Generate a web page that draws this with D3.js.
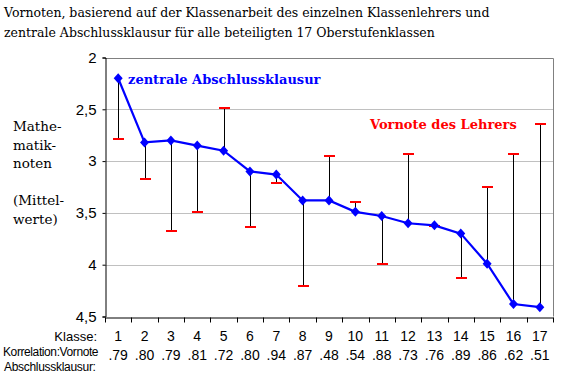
<!DOCTYPE html>
<html>
<head>
<meta charset="utf-8">
<script src="https://cdn.jsdelivr.net/npm/d3@7"></script>
<style>
  body { margin: 0; background: #fff; }
  svg { display: block; }
</style>
</head>
<body>
<script>
const width = 561;
const height = 380;

// data
const klassen = ["1","2","3","4","5","6","7","8","9","10","11","12","13","14","15","16","17"];
const abschluss = [2.20, 2.82, 2.80, 2.85, 2.90, 3.10, 3.13, 3.38, 3.38, 3.49, 3.53, 3.60, 3.62, 3.70, 3.99, 4.38, 4.41];
const vornote   = [2.79, 3.17, 3.67, 3.49, 2.49, 3.64, 3.21, 4.21, 2.95, 3.39, 3.99, 2.93, 3.63, 4.13, 3.25, 2.93, 2.64];
const korrelation = [".79",".80",".79",".81",".72",".80",".94",".87",".48",".54",".88",".73",".76",".89",".86",".62",".51"];
const yTicks = [2, 2.5, 3, 3.5, 4, 4.5];
const titleLines = [
  "Vornoten, basierend auf der Klassenarbeit des einzelnen Klassenlehrers und",
  "zentrale Abschlussklausur für alle beteiligten 17 Oberstufenklassen"
];
const yLabel = ["Mathe-", "matik-", "noten", "", "(Mittel-", "werte)"];

const serif = "Georgia, 'DejaVu Serif', serif";
const sans = "Arial, 'Liberation Sans', sans-serif";

const plot = { left: 105, right: 553, top: 57.5, bottom: 316.5 };

const svg = d3.select("body")
    .append("svg")
    .attr("width", width)
    .attr("height", height);

const x = d3.scaleBand()
    .domain(klassen)
    .range([plot.left, plot.right])
    .padding(0);

const y = d3.scaleLinear()
    .domain([2, 4.5])
    .range([plot.top, plot.bottom]);

// title
svg.append("g").selectAll("text")
    .data(titleLines)
    .join("text")
    .attr("x", 4)
    .attr("y", (d, i) => 17 + i * 20)
    .attr("font-family", serif)
    .attr("font-size", 12.5)
    .attr("fill", "#000")
    .text(d => d);

// gridlines
svg.append("g").selectAll("line")
    .data(yTicks.filter(d => d > 2 && d < 4.5))
    .join("line")
    .attr("x1", plot.left)
    .attr("x2", plot.right)
    .attr("y1", d => Math.round(y(d)) + 0.5)
    .attr("y2", d => Math.round(y(d)) + 0.5)
    .attr("stroke", "#c0c0c0");

// top and right border
svg.append("path")
    .attr("d", `M${plot.left},${Math.round(plot.top) + 0.5}H${plot.right + 0.5}V${plot.bottom}`)
    .attr("fill", "none")
    .attr("stroke", "#808080");

// y axis
const yAxis = d3.axisLeft(y)
    .tickValues(yTicks)
    .tickSize(3)
    .tickPadding(6)
    .tickFormat(d => String(d).replace(".", ","));

svg.append("g")
    .attr("transform", `translate(${plot.left + 0.5},0)`)
    .call(yAxis)
    .call(g => g.select(".domain").attr("stroke", "#000"))
    .call(g => g.selectAll("text")
        .attr("font-family", sans)
        .attr("font-size", 15)
        .attr("fill", "#000"));

// x axis ticks at band boundaries
const xAxis = d3.axisBottom(x)
    .tickSize(0)
    .tickFormat("");

const xg = svg.append("g")
    .attr("transform", `translate(0,${Math.round(plot.bottom) + 0.5})`)
    .call(xAxis);
xg.select(".domain").attr("stroke", "#000");
xg.selectAll(".sep")
    .data(klassen.concat(["end"]))
    .join("line")
    .attr("class", "sep")
    .attr("x1", (d, i) => Math.round(plot.left + i * x.bandwidth()) + 0.5)
    .attr("x2", (d, i) => Math.round(plot.left + i * x.bandwidth()) + 0.5)
    .attr("y1", 0)
    .attr("y2", 5)
    .attr("stroke", "#000");

// class numbers and correlations
svg.append("g").selectAll("text")
    .data(klassen)
    .join("text")
    .attr("x", d => x(d) + x.bandwidth() / 2)
    .attr("y", 341)
    .attr("text-anchor", "middle")
    .attr("font-family", sans)
    .attr("font-size", 14)
    .text(d => d);

svg.append("g").selectAll("text")
    .data(korrelation)
    .join("text")
    .attr("x", (d, i) => x(klassen[i]) + x.bandwidth() / 2)
    .attr("y", 360)
    .attr("text-anchor", "middle")
    .attr("font-family", sans)
    .attr("font-size", 14)
    .text(d => d);

svg.append("text")
    .attr("x", 97)
    .attr("y", 341)
    .attr("text-anchor", "end")
    .attr("font-family", sans)
    .attr("font-size", 13)
    .text("Klasse:");

svg.append("text")
    .attr("x", 3)
    .attr("y", 356)
    .attr("font-family", sans)
    .attr("font-size", 12)
    .attr("letter-spacing", -0.4)
    .text("Korrelation:Vornote");

svg.append("text")
    .attr("x", 4)
    .attr("y", 371)
    .attr("font-family", sans)
    .attr("font-size", 12)
    .attr("letter-spacing", -0.3)
    .text("Abschlussklausur:");

// y label
svg.append("g").selectAll("text")
    .data(yLabel)
    .join("text")
    .attr("x", 13)
    .attr("y", (d, i) => 131 + i * 18.5)
    .attr("font-family", serif)
    .attr("font-size", 13.5)
    .text(d => d);

// drop lines from Abschluss to Vornote
const cx = i => x(klassen[i]) + x.bandwidth() / 2;

svg.append("g").selectAll("line")
    .data(vornote)
    .join("line")
    .attr("x1", (d, i) => Math.round(cx(i)) + 0.5)
    .attr("x2", (d, i) => Math.round(cx(i)) + 0.5)
    .attr("y1", (d, i) => y(abschluss[i]))
    .attr("y2", d => y(d))
    .attr("stroke", "#000");

// red caps
svg.append("g").selectAll("line")
    .data(vornote)
    .join("line")
    .attr("x1", (d, i) => Math.round(cx(i)) - 5)
    .attr("x2", (d, i) => Math.round(cx(i)) + 6)
    .attr("y1", d => Math.round(y(d)))
    .attr("y2", d => Math.round(y(d)))
    .attr("stroke", "#ff0000")
    .attr("stroke-width", 2);

// blue line
const line = d3.line()
    .x((d, i) => cx(i))
    .y(d => y(d));

svg.append("path")
    .datum(abschluss)
    .attr("d", line)
    .attr("fill", "none")
    .attr("stroke", "#0000ff")
    .attr("stroke-width", 2.2);

// diamond markers
svg.append("g").selectAll("path")
    .data(abschluss)
    .join("path")
    .attr("transform", (d, i) => `translate(${cx(i)},${y(d)})`)
    .attr("d", "M0,-5L4.5,0L0,5L-4.5,0Z")
    .attr("fill", "#0000ff");

// series labels
svg.append("text")
    .attr("x", 128)
    .attr("y", 84)
    .attr("font-family", serif)
    .attr("font-size", 13)
    .attr("font-weight", "bold")
    .attr("fill", "#0000ff")
    .text("zentrale Abschlussklausur");

svg.append("text")
    .attr("x", 370)
    .attr("y", 129)
    .attr("font-family", serif)
    .attr("font-size", 13)
    .attr("font-weight", "bold")
    .attr("fill", "#ff0000")
    .text("Vornote des Lehrers");
</script>
</body>
</html>
